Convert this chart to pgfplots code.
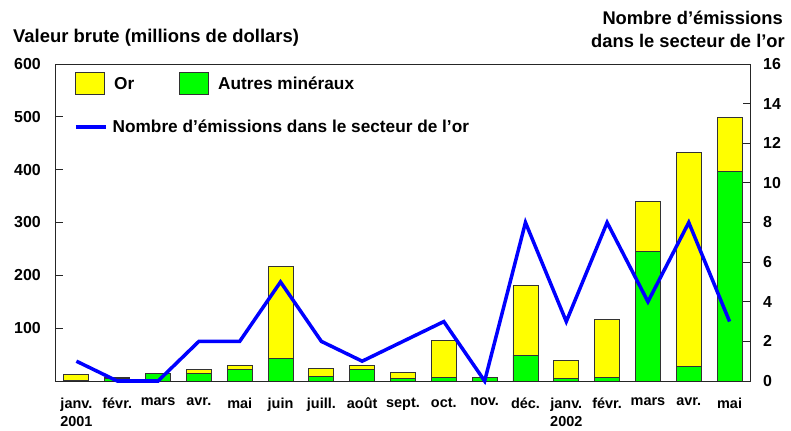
\documentclass[border=0pt]{standalone}
\usepackage{fontspec}
\setmainfont{Liberation Sans}
\usepackage{pgfplots}
\pgfplotsset{compat=1.18}
\definecolor{orc}{RGB}{255,255,0}
\definecolor{autres}{RGB}{0,255,0}
\definecolor{ligne}{RGB}{0,0,255}
\pgfplotsset{
  barleg/.style={legend image code/.code={\draw[##1,/tikz/.cd,yshift=0pt] (0bp,-10bp) rectangle (29bp,12bp);}},
  lineleg/.style={legend image code/.code={\draw[##1] (0bp,0bp) -- (30bp,0bp);}},
  common/.style={
    scale only axis, width=694bp, height=317bp,
    xmin=-0.5, xmax=16.5,
    /pgf/number format/assume math mode=true,
    tick label style={font=\fontsize{16}{18}\selectfont\bfseries, inner sep=0pt},
    tick align=inside, major tick length=7bp,
    tick style={line width=0.8bp, black!85},
    axis line style={line width=1bp, black!85},
  }
}
\begin{document}
\begin{tikzpicture}
\begin{axis}[common,
  ybar stacked, bar width=25bp,
  ymin=0, ymax=600, ytick={100,200,300,400,500,600},
  ytick pos=left,
  xtick={0,...,16},
  xticklabels={{janv.\\2001},févr.,mars,avr.,mai,juin,juill.,août,sept.,oct.,nov.,déc.,{janv.\\2002},févr.,mars,avr.,mai},
  x tick style={draw=none},
  xticklabel style={font=\fontsize{14.5}{18.5}\selectfont\bfseries, align=center, yshift=-16.5bp},
  yticklabel style={xshift=-15bp},
  reverse legend,
  legend columns=2,
  legend style={at={(0,1)}, anchor=west, xshift=19bp, yshift=-19bp, draw=none, fill=none, inner sep=0pt,
    nodes={inner sep=0pt},
    font=\fontsize{17.3}{20}\selectfont\bfseries,
    /tikz/every odd column/.style={column sep=9bp},
    /tikz/every even column/.style={column sep=45bp}},
]
\addplot[fill=autres, draw=black!80, line width=0.9bp, barleg]
  coordinates {(0,1) (1,5) (2,14) (3,14) (4,21) (5,43) (6,9) (7,21) (8,4) (9,7) (10,6) (11,49) (12,4) (13,6) (14,246) (15,28) (16,396)};
\addlegendentry{Autres minéraux}
\addplot[fill=orc, draw=black!80, line width=0.9bp, barleg]
  coordinates {(0,11) (1,1) (2,0.5) (3,7) (4,9) (5,173) (6,14) (7,8) (8,12) (9,70) (10,0.5) (11,131) (12,34) (13,111) (14,94) (15,405) (16,102)};
\addlegendentry{Or}
\end{axis}
\begin{axis}[common,
  ymin=0, ymax=16, ytick={0,2,...,16},
  axis y line*=right, axis x line=none,
  y axis line style={-},
  clip=false,
  yticklabel style={xshift=13bp, anchor=west},
  legend style={at={(0,1)}, anchor=west, xshift=18bp, yshift=-63bp, draw=none, fill=none, inner sep=0pt,
    nodes={inner sep=0pt},
    font=\fontsize{17.3}{20}\selectfont\bfseries,
    /tikz/every odd column/.style={column sep=5bp}},
]
\addplot[ligne, line width=3.5bp, lineleg]
  coordinates {(0,1) (1,0) (2,0) (3,2) (4,2) (5,5) (6,2) (7,1) (8,2) (9,3) (10,0) (11,8) (12,3) (13,8) (14,4) (15,8) (16,3)};
\addlegendentry{Nombre d’émissions dans le secteur de l’or}
\end{axis}
\node[anchor=base west, font=\fontsize{18.5}{21}\selectfont\bfseries, inner sep=0pt] at ([shift={(-43bp,21bp)}]current axis.north west) {Valeur brute (millions de dollars)};
\node[anchor=base east, font=\fontsize{18.4}{21}\selectfont\bfseries, inner sep=0pt] at ([shift={(33bp,39bp)}]current axis.north east) {Nombre d’émissions};
\node[anchor=base east, font=\fontsize{18.4}{21}\selectfont\bfseries, inner sep=0pt] at ([shift={(35bp,16bp)}]current axis.north east) {dans le secteur de l’or};
\pgfresetboundingbox
\path ([shift={(-56bp,-50bp)}]current axis.south west) rectangle ([shift={(41bp,64bp)}]current axis.north east);
\end{tikzpicture}
\end{document}
